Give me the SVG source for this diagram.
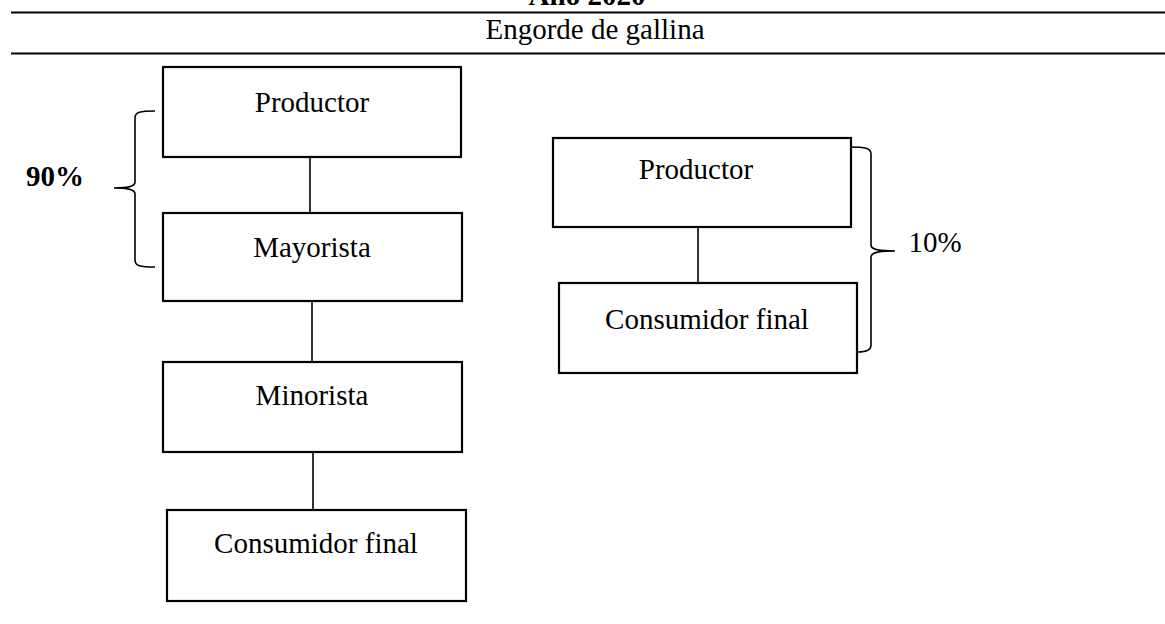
<svg xmlns="http://www.w3.org/2000/svg" width="1165" height="624" viewBox="0 0 1165 624">
<style>
.t{font-family:"Liberation Serif","Times New Roman",serif;font-size:29px;fill:#000;text-anchor:middle}
.b{font-weight:bold}
.box{fill:#fff;stroke:#000;stroke-width:2.2}
.ln{stroke:#000;stroke-width:1.6;fill:none}
.rule{stroke:#000;stroke-width:1.8}
</style>
<rect width="1165" height="624" fill="#fff"/>
<g id="header">
<text class="t b" x="587" y="5">Año 2020</text>
<line class="rule" x1="11" y1="12.5" x2="1165" y2="12.5"/>
<text class="t" x="595" y="39">Engorde de gallina</text>
<line class="rule" x1="11" y1="53.5" x2="1165" y2="53.5"/>
</g>
<g id="connectors">
<line class="ln" x1="310" y1="157" x2="310" y2="213"/>
<line class="ln" x1="312" y1="301" x2="312" y2="362"/>
<line class="ln" x1="313" y1="452" x2="313" y2="510"/>
<line class="ln" x1="698" y1="227" x2="698" y2="283"/>
</g>
<g id="n-productor-a">
<rect class="box" x="163" y="67" width="298" height="90"/>
<text class="t" x="312" y="112">Productor</text>
</g>
<g id="n-mayorista">
<rect class="box" x="163" y="213" width="299" height="88"/>
<text class="t" x="312" y="257">Mayorista</text>
</g>
<g id="n-minorista">
<rect class="box" x="163" y="362" width="299" height="90"/>
<text class="t" x="312" y="405">Minorista</text>
</g>
<g id="n-consumidor-a">
<rect class="box" x="167" y="510" width="299" height="91"/>
<text class="t" x="316" y="553">Consumidor final</text>
</g>
<g id="n-productor-b">
<rect class="box" x="553" y="138" width="298" height="89"/>
<text class="t" x="696" y="179">Productor</text>
</g>
<g id="n-consumidor-b">
<rect class="box" x="559" y="283" width="298" height="90"/>
<text class="t" x="707" y="329">Consumidor final</text>
</g>
<g id="brace-90">
<path class="ln" d="M155,111 C140,111 135,112 135,118 L135,182 C135,186 130,188 114,188 C130,188 135,190 135,194 L135,260 C135,266 140,267 155,267"/>
<text class="t b" x="55" y="186">90%</text>
</g>
<g id="brace-10">
<path class="ln" d="M850,147 C865,147 871,148 871,154 L871,245 C871,249 876,251 895,251 C876,251 871,253 871,257 L871,345 C871,351 865,352 858,352"/>
<text class="t" x="935" y="252">10%</text>
</g>
</svg>
